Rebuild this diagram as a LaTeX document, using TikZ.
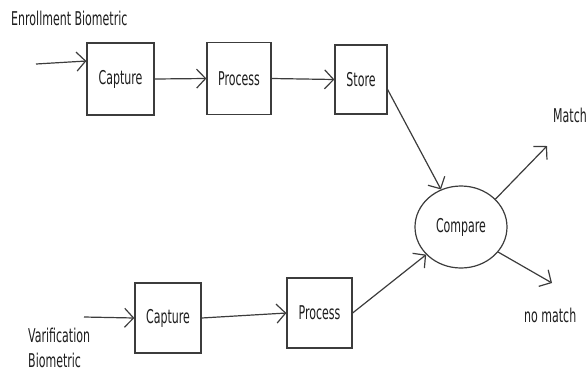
\documentclass[tikz,border=0pt]{standalone}
\usepackage{fontspec}
\usetikzlibrary{arrows.meta,shapes.geometric}
\newfontfamily\diagfont[FakeStretch=0.58]{DejaVu Sans}
\definecolor{ink}{HTML}{1E1E1E}
\definecolor{edge}{HTML}{3C3C3C}
\tikzset{
  stage/.style={draw=edge, line width=1.2pt, inner sep=0pt, text=ink,
    font=\diagfont\fontsize{19}{22}\selectfont},
  label/.style={inner sep=0pt, text=ink, anchor=base west,
    font=\diagfont\fontsize{19}{25}\selectfont},
  flow/.style={draw=edge, line width=1.2pt,
    -{Straight Barb[length=9pt,width=19pt,line width=1.2pt]}},
}
\begin{document}
\begin{tikzpicture}[x=1pt,y=-1pt]
\useasboundingbox (0,0) rectangle (587,376);

% enrollment path
\node[label] (enrol) at (11,25.5) {Enrollment Biometric};
\node[stage, minimum width=67pt, minimum height=72pt] (cap1) at (120.5,79) {Capture};
\node[stage, minimum width=64pt, minimum height=72pt] (proc1) at (239,78.5) {Process};
\node[stage, minimum width=52pt, minimum height=69pt] (store) at (361,79.5) {Store};

% verification path (base anchor sits on the last line)
\node[label, align=left] (verif) at (28,367) {Varification\\Biometric};
\node[stage, minimum width=66pt, minimum height=70pt] (cap2) at (168,318) {Capture};
\node[stage, minimum width=65pt, minimum height=70pt] (proc2) at (319.5,313) {Process};

% comparison and outcomes
\node[stage, ellipse, minimum width=92pt, minimum height=82pt] (compare) at (461,227) {Compare};
\node[label] (match) at (553,122) {Match};
\node[label] (nomatch) at (524,322) {no match};

\coordinate (in1) at (36,64);
\coordinate (in2) at (84,317);
\coordinate (outm) at (547,146);
\coordinate (outn) at (552,283);

\draw[flow] (in1) -- ([yshift=18pt]cap1.west);
\draw[flow] (cap1.east) -- (proc1.west);
\draw[flow] (proc1.east) -- (store.west);
\draw[flow] ([yshift=-10pt]store.east) -- (compare);

\draw[flow] (in2) -- (cap2.west);
\draw[flow] (cap2.east) -- (proc2.west);
\draw[flow] (proc2.east) -- (compare);

\draw[flow] (compare.39) -- (outm);
\draw[flow] (compare.-34) -- (outn);
\end{tikzpicture}
\end{document}
